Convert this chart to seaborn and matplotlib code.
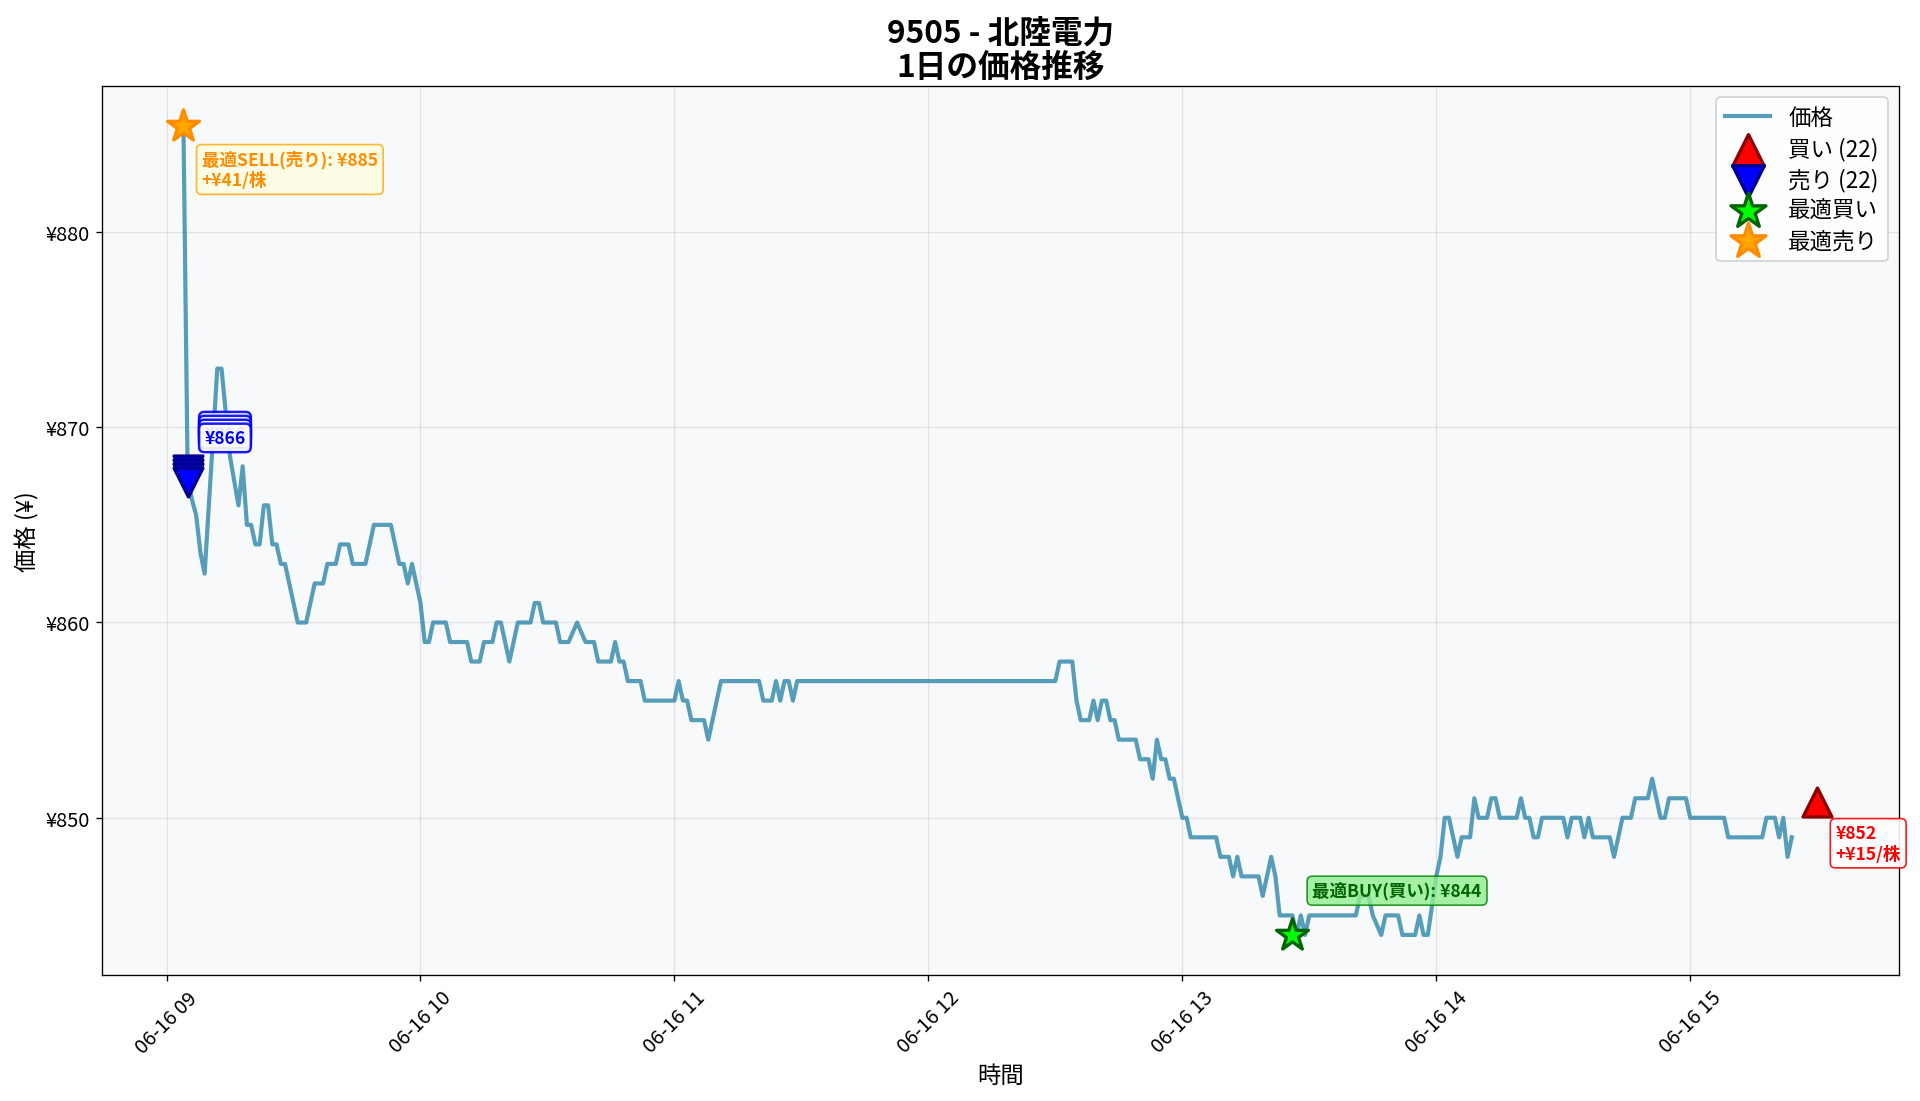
import pandas as pd
import matplotlib.pyplot as plt
import matplotlib.dates as mdates
from matplotlib.ticker import FuncFormatter
import seaborn as sns

# price line (vertices)
times = ["09:04", "09:05", "09:06", "09:07", "09:08", "09:09", "09:12", "09:13", "09:15", "09:17",
         "09:18", "09:19", "09:20", "09:21", "09:22", "09:23", "09:24", "09:25", "09:26", "09:27",
         "09:28", "09:31", "09:33", "09:35", "09:37", "09:38", "09:40", "09:41", "09:43", "09:44",
         "09:47", "09:49", "09:53", "09:55", "09:56", "09:57", "09:58", "10:00", "10:01", "10:02",
         "10:03", "10:06", "10:07", "10:11", "10:12", "10:14", "10:15", "10:17", "10:18", "10:19",
         "10:21", "10:23", "10:26", "10:27", "10:28", "10:29", "10:32", "10:33", "10:35", "10:37",
         "10:39", "10:41", "10:42", "10:45", "10:46", "10:47", "10:48", "10:49", "10:52", "10:53",
         "11:00", "11:01", "11:02", "11:03", "11:04", "11:07", "11:08", "11:11", "11:20", "11:21",
         "11:23", "11:24", "11:25", "11:26", "11:27", "11:28", "11:29", "12:30", "12:31", "12:34",
         "12:35", "12:36", "12:38", "12:39", "12:40", "12:41", "12:42", "12:43", "12:44", "12:45",
         "12:49", "12:50", "12:52", "12:53", "12:54", "12:55", "12:56", "12:57", "12:58", "13:00",
         "13:01", "13:02", "13:08", "13:09", "13:11", "13:12", "13:13", "13:14", "13:18", "13:19",
         "13:21", "13:22", "13:23", "13:26", "13:27", "13:28", "13:29", "13:30", "13:41", "13:42",
         "13:44", "13:45", "13:47", "13:48", "13:51", "13:52", "13:55", "13:56", "13:57", "13:58",
         "14:00", "14:01", "14:02", "14:03", "14:05", "14:06", "14:08", "14:09", "14:10", "14:12",
         "14:13", "14:14", "14:15", "14:19", "14:20", "14:21", "14:22", "14:23", "14:24", "14:25",
         "14:30", "14:31", "14:32", "14:34", "14:35", "14:36", "14:37", "14:41", "14:42", "14:44",
         "14:46", "14:47", "14:50", "14:51", "14:52", "14:53", "14:54", "14:55", "14:59", "15:00",
         "15:08", "15:09", "15:17", "15:18", "15:20", "15:21", "15:22", "15:23", "15:24"]
prices = [885.4, 867.5, 866.3, 865.5, 863.6, 862.5, 873, 873, 868.5, 866,
          868, 865, 865, 864, 864, 866, 866, 864, 864, 863,
          863, 860, 860, 862, 862, 863, 863, 864, 864, 863,
          863, 865, 865, 863, 863, 862, 863, 861, 859, 859,
          860, 860, 859, 859, 858, 858, 859, 859, 860, 860,
          858, 860, 860, 861, 861, 860, 860, 859, 859, 860,
          859, 859, 858, 858, 859, 858, 858, 857, 857, 856,
          856, 857, 856, 856, 855, 855, 854, 857, 857, 856,
          856, 857, 856, 857, 857, 856, 857, 857, 858, 858,
          856, 855, 855, 856, 855, 856, 856, 855, 855, 854,
          854, 853, 853, 852, 854, 853, 853, 852, 852, 850,
          850, 849, 849, 848, 848, 847, 848, 847, 847, 846,
          848, 847, 845, 845, 844, 845, 844, 845, 845, 846,
          846, 845, 844, 845, 845, 844, 844, 845, 844, 844,
          847, 848, 850, 850, 848, 849, 849, 851, 850, 850,
          851, 851, 850, 850, 851, 850, 850, 849, 849, 850,
          850, 849, 850, 850, 849, 850, 849, 849, 848, 850,
          850, 851, 851, 852, 851, 850, 850, 851, 851, 850,
          850, 849, 849, 850, 850, 849, 850, 848, 849]

# trade signals
buy_times = ["15:30"]
buy_prices = [850.8]
buy_labels = ["¥852\n+¥15/株"]
buy_count = 22
sell_times = ["09:05", "09:05", "09:05", "09:05"]
sell_prices = [867.8, 867.6, 867.4, 867.2]
sell_labels = ["¥867", "¥867", "¥866", "¥866"]
sell_count = 22

# best points
best_buy_time, best_buy_price = "13:26", 844
best_sell_time, best_sell_price = "09:04", 885.4
best_sell_gain = 41

day = "2025-06-16 "
df = pd.DataFrame({"time": pd.to_datetime([day + t for t in times]), "price": prices})
buy_t = pd.to_datetime([day + t for t in buy_times])
sell_t = pd.to_datetime([day + t for t in sell_times])
bb_t = pd.Timestamp(day + best_buy_time)
bs_t = pd.Timestamp(day + best_sell_time)

plt.rcParams['font.family'] = ['Noto Sans CJK JP', 'DejaVu Sans']
plt.rcParams['axes.unicode_minus'] = False

fig, ax = plt.subplots(figsize=(16, 9.1833), dpi=120)
fig.subplots_adjust(left=0.053, right=0.989, top=0.921, bottom=0.114)
ax.set_facecolor('#f8f9fa')

sns.lineplot(data=df, x="time", y="price", ax=ax, color='#2E86AB', alpha=0.8,
             linewidth=2.5, estimator=None, label="価格")

ax.scatter(buy_t, buy_prices, marker='^', s=300, color='red', edgecolors='darkred',
           linewidths=2, zorder=5, label=f"買い ({buy_count})")
ax.scatter(sell_t, sell_prices, marker='v', s=300, color='blue', edgecolors='darkblue',
           linewidths=2, zorder=5, label=f"売り ({sell_count})")
ax.scatter([bb_t], [best_buy_price], marker='*', s=400, color='lime', edgecolors='darkgreen',
           linewidths=2, zorder=6, label="最適買い")
ax.scatter([bs_t], [best_sell_price], marker='*', s=400, color='orange', edgecolors='darkorange',
           linewidths=2, zorder=6, label="最適売り")

for t, p, lab in zip(buy_t, buy_prices, buy_labels):
    ax.annotate(lab, xy=(t, p), xytext=(11, -13), textcoords='offset points', va='top',
                fontsize=10.5, fontweight='bold', color='red',
                bbox=dict(boxstyle='round,pad=0.3', facecolor='white', edgecolor='red', alpha=0.9))
for t, p, lab in zip(sell_t, sell_prices, sell_labels):
    ax.annotate(lab, xy=(t, p), xytext=(10, 21), textcoords='offset points', va='bottom',
                fontsize=10.5, fontweight='bold', color='blue',
                bbox=dict(boxstyle='round,pad=0.3', facecolor='white', edgecolor='blue',
                          linewidth=1.5, alpha=0.9))

ax.annotate(f"最適BUY(買い): ¥{best_buy_price:.0f}", xy=(bb_t, best_buy_price), xytext=(12, 21),
            textcoords='offset points', va='bottom', fontsize=10.5, fontweight='bold', color='darkgreen',
            bbox=dict(boxstyle='round,pad=0.3', facecolor='lightgreen', edgecolor='green', alpha=0.8))
ax.annotate(f"最適SELL(売り): ¥{best_sell_price:.0f}\n+¥{best_sell_gain}/株", xy=(bs_t, best_sell_price),
            xytext=(11, -14), textcoords='offset points', va='top', fontsize=10.5, fontweight='bold',
            color='darkorange',
            bbox=dict(boxstyle='round,pad=0.3', facecolor='lightyellow', edgecolor='orange', alpha=0.8))

ax.set_title("9505 - 北陸電力\n1日の価格推移", fontsize=19, fontweight='bold', linespacing=1.1)
ax.set_xlabel("時間", fontsize=14)
ax.set_ylabel("価格 (¥)", fontsize=14)
ax.yaxis.set_major_formatter(FuncFormatter(lambda v, _: f"¥{v:.0f}"))
ax.xaxis.set_major_locator(mdates.HourLocator())
ax.xaxis.set_major_formatter(mdates.DateFormatter('%m-%d %H'))
ax.tick_params(labelsize=12)
plt.setp(ax.get_xticklabels(), rotation=45)
ax.grid(True, alpha=0.3)
ax.legend(loc='upper right', fontsize=13.5, framealpha=0.9, labelspacing=0.33, markerscale=1.1)

fig.savefig("out.png", dpi=120)
